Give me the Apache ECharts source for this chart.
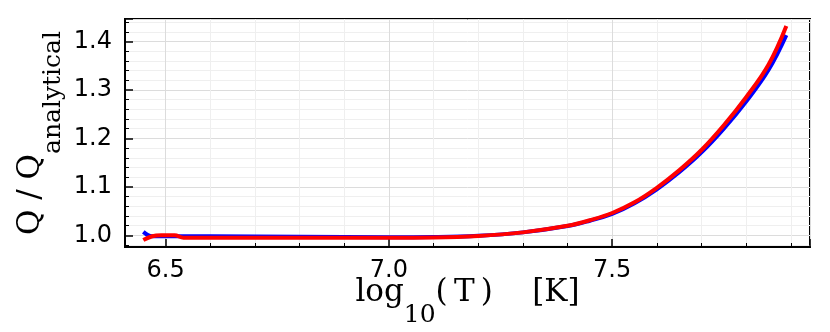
<!DOCTYPE html>
<html>
<head>
<meta charset="utf-8">
<script src="https://cdn.jsdelivr.net/npm/echarts@6/dist/echarts.min.js"></script>
<style>
html, body { margin: 0; padding: 0; background: #fff; }
#chart { width: 830px; height: 332px; }
</style>
</head>
<body>
<div id="chart"></div>
<script>
// log10(T) samples and Q/Q_analytical
var blueT = [6.45, 6.47, 6.50, 6.60, 6.80, 7.00, 7.10, 7.20, 7.30, 7.40, 7.45, 7.50, 7.55, 7.60, 7.65, 7.70, 7.75, 7.80, 7.85, 7.89];
var blueQ = [1.007, 0.998, 0.998, 0.998, 0.997, 0.996, 0.9965, 0.999, 1.006, 1.019, 1.030, 1.044, 1.066, 1.095, 1.130, 1.171, 1.220, 1.276, 1.341, 1.413];
var redT = [6.45, 6.47, 6.49, 6.52, 6.54, 6.60, 6.80, 7.00, 7.10, 7.20, 7.30, 7.40, 7.45, 7.50, 7.55, 7.60, 7.65, 7.70, 7.75, 7.80, 7.85, 7.89];
var redQ = [0.990, 0.998, 1.000, 1.000, 0.995, 0.995, 0.995, 0.995, 0.9955, 0.9985, 1.006, 1.0195, 1.031, 1.046, 1.068, 1.098, 1.134, 1.176, 1.227, 1.285, 1.352, 1.432];

var xMin = 6.409, xMax = 7.943;
var yMin = 0.9758, yMax = 1.4464;

function pairs(xs, ys) {
  return xs.map(function (x, i) { return [x, ys[i]]; });
}

var tickFont = { fontFamily: 'DejaVu Sans', fontSize: 24, color: '#000' };
var nameRich = {
  m: { fontFamily: 'DejaVu Serif', fontSize: 31, lineHeight: 34, verticalAlign: 'top', color: '#000' },
  s: { fontFamily: 'DejaVu Serif', fontSize: 25, lineHeight: 28, verticalAlign: 'top', padding: [26, 0, 0, 0], color: '#000' }
};

var myChart = echarts.init(document.getElementById('chart'));
var option = {
  animation: false,
  backgroundColor: '#fff',
  grid: {
    left: 125, right: 20, top: 19, bottom: 85,
    show: true, borderColor: '#000', borderWidth: 2,
    containLabel: false, outerBoundsMode: 'none'
  },
  xAxis: {
    type: 'value',
    min: xMin, max: xMax,
    splitNumber: 3,
    name: '{m|log}{s|10}{m|(\u2009T\u2009)    [K]}',
    nameLocation: 'middle',
    nameGap: 30,
    nameMoveOverlap: false,
    nameTextStyle: { rich: nameRich },
    axisLine: { onZero: false, lineStyle: { color: '#000', width: 2 } },
    axisTick: { inside: true, length: 8, lineStyle: { color: '#000', width: 1.5 } },
    minorTick: { show: true, splitNumber: 5, length: 4, lineStyle: { color: '#000', width: 1 } },
    axisLabel: Object.assign({
      margin: 12, showMinLabel: false, showMaxLabel: false,
      formatter: function (v) { return v.toFixed(1); }
    }, tickFont),
    splitLine: { show: true, lineStyle: { color: '#dcdcdc', width: 1 } },
    minorSplitLine: { show: true, lineStyle: { color: '#efefef', width: 1 } }
  },
  yAxis: {
    type: 'value',
    min: yMin, max: yMax,
    splitNumber: 5,
    name: '{m|Q / Q}{s|analytical}',
    nameLocation: 'middle',
    nameGap: 76,
    nameMoveOverlap: false,
    nameTextStyle: { rich: nameRich },
    axisLine: { onZero: false, lineStyle: { color: '#000', width: 2 } },
    axisTick: { inside: true, length: 8, lineStyle: { color: '#000', width: 1.5 } },
    minorTick: { show: true, splitNumber: 5, length: 4, lineStyle: { color: '#000', width: 1 } },
    axisLabel: Object.assign({
      margin: 13, showMinLabel: false, showMaxLabel: false,
      formatter: function (v) { return v.toFixed(1); }
    }, tickFont),
    splitLine: { show: true, lineStyle: { color: '#dcdcdc', width: 1 } },
    minorSplitLine: { show: true, lineStyle: { color: '#efefef', width: 1 } }
  },
  series: [
    {
      name: 'blue',
      type: 'line',
      data: pairs(blueT, blueQ),
      smooth: 0.4,
      showSymbol: false,
      lineStyle: { color: '#0000ff', width: 4 },
      z: 2
    },
    {
      name: 'red',
      type: 'line',
      data: pairs(redT, redQ),
      smooth: 0.4,
      showSymbol: false,
      lineStyle: { color: '#ff0000', width: 4 },
      z: 3
    }
  ]
};
myChart.setOption(option);
</script>
</body>
</html>
